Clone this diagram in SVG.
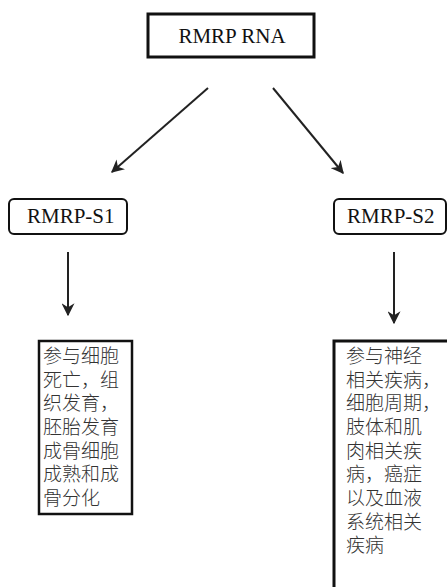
<svg xmlns="http://www.w3.org/2000/svg" width="447" height="587" viewBox="0 0 447 587">
<style>
.lbl{font-family:"Liberation Serif","Times New Roman",serif;font-size:21px;fill:#111}
.cjk{font-family:"Noto Sans CJK SC","Noto Sans CJK JP",sans-serif;font-size:19px;font-weight:300;fill:#333}
.box{fill:#fff;stroke:#111}
.conn{stroke:#222;stroke-width:2;fill:none;marker-end:url(#ah)}
</style>
<defs>
<marker id="ah" viewBox="0 0 10 10" refX="9" refY="5" markerWidth="6.5" markerHeight="6.5" orient="auto" markerUnits="strokeWidth">
<path d="M0,0 L10,5 L0,10 L3,5 Z" fill="#222"/>
</marker>
</defs>
<rect width="447" height="587" fill="#fff"/>
<g id="connectors">
<line class="conn" x1="208" y1="88" x2="112" y2="172"/>
<line class="conn" x1="273" y1="88" x2="343" y2="173"/>
<line class="conn" x1="68" y1="252" x2="68" y2="315"/>
<line class="conn" x1="394" y1="252" x2="394" y2="323"/>
</g>
<g id="rmrp-rna">
<rect class="box" x="148" y="14" width="166" height="43" stroke-width="3"/>
<text class="lbl" x="232" y="43" text-anchor="middle">RMRP RNA</text>
</g>
<g id="rmrp-s1">
<rect class="box" x="9" y="199" width="118" height="35" rx="5" stroke-width="2"/>
<text class="lbl" x="27" y="223">RMRP-S1</text>
</g>
<g id="rmrp-s2">
<rect class="box" x="334" y="199" width="112" height="35" rx="5" stroke-width="2"/>
<text class="lbl" x="347" y="223">RMRP-S2</text>
</g>
<g id="s1-function">
<rect class="box" x="39" y="341" width="93" height="173" stroke-width="2.5"/>
<text class="cjk">
<tspan x="43" y="363">参与细胞</tspan>
<tspan x="43" y="387">死亡，组</tspan>
<tspan x="43" y="410">织发育，</tspan>
<tspan x="43" y="434">胚胎发育</tspan>
<tspan x="43" y="458">成骨细胞</tspan>
<tspan x="43" y="481">成熟和成</tspan>
<tspan x="43" y="505">骨分化</tspan>
</text>
</g>
<g id="s2-function">
<rect class="box" x="334" y="341" width="120" height="250" stroke-width="3"/>
<text class="cjk">
<tspan x="346" y="363">参与神经</tspan>
<tspan x="346" y="387">相关疾病，</tspan>
<tspan x="346" y="410">细胞周期，</tspan>
<tspan x="346" y="434">肢体和肌</tspan>
<tspan x="346" y="458">肉相关疾</tspan>
<tspan x="346" y="481">病，癌症</tspan>
<tspan x="346" y="505">以及血液</tspan>
<tspan x="346" y="529">系统相关</tspan>
<tspan x="346" y="552">疾病</tspan>
</text>
</g>
</svg>
